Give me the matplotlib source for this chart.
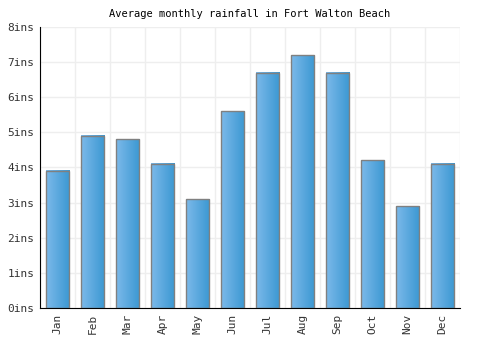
import numpy as np
import matplotlib
matplotlib.use("Agg")
import matplotlib.pyplot as plt
from matplotlib.colors import LinearSegmentedColormap

months = ["Jan", "Feb", "Mar", "Apr", "May", "Jun",
          "Jul", "Aug", "Sep", "Oct", "Nov", "Dec"]
rainfall = [3.9, 4.9, 4.8, 4.1, 3.1, 5.6, 6.7, 7.2, 6.7, 4.2, 2.9, 4.1]
yticks = [0, 1, 2, 3, 4, 5, 6, 7, 8]

plt.rcParams["font.family"] = ["DejaVu Sans Mono"]

fig = plt.figure(figsize=(5, 3.5), dpi=100)
ax = fig.add_axes([0.08, 0.12, 0.84, 0.803])

x = np.arange(len(months))
width = 0.67
grad = LinearSegmentedColormap.from_list("g", ["#7cb9ea", "#3b98d2"])
gradient = np.linspace(0, 1, 64).reshape(1, -1)

bars = ax.bar(x, rainfall, width, facecolor="none", edgecolor="#808080",
              linewidth=1, zorder=3)
for b in bars:
    x0, y0 = b.get_x(), b.get_y()
    im = ax.imshow(gradient, cmap=grad, aspect="auto", zorder=2,
                   extent=(x0, x0 + b.get_width(), y0, y0 + b.get_height()))

ax.set_xlim(-0.5, len(months) - 0.5)
ax.set_ylim(0, 8)
ax.set_yticks(yticks)
ax.set_yticklabels([f"{v}ins" for v in yticks])
ax.set_xticks(x)
ax.set_xticklabels(months, rotation=90)
ax.set_xticks(np.arange(-0.5, len(months)), minor=True)
ax.grid(True, which="minor", axis="x", color="#eeeeee", linewidth=1, zorder=0)
ax.grid(True, which="major", axis="y", color="#eeeeee", linewidth=1, zorder=0)
ax.tick_params(which="both", length=0, labelsize=8, colors="#333333", pad=4)
ax.set_axisbelow(True)

for s in ["top", "right"]:
    ax.spines[s].set_visible(False)
ax.spines["left"].set_color("black")
ax.spines["bottom"].set_color("black")

ax.set_title("Average monthly rainfall in Fort Walton Beach", fontsize=7.5, pad=7)

fig.savefig("out.png", dpi=100)
